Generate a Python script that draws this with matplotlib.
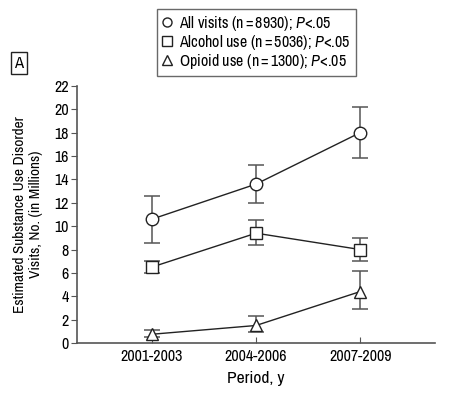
import matplotlib
matplotlib.use("Agg")
import matplotlib.pyplot as plt
from matplotlib import font_manager

# prefer a narrow/condensed face if one is installed (reference uses a condensed sans)
narrow = None
for f in font_manager.fontManager.ttflist:
    if 'Narrow' in f.name or 'Condensed' in f.name:
        narrow = f.name
        break
for f in font_manager.fontManager.ttflist:
    if f.name == 'Liberation Sans Narrow':
        narrow = f.name
        break

if narrow:
    plt.rcParams['font.family'] = [narrow, 'Liberation Sans', 'DejaVu Sans']
    scale = 1.0
else:
    plt.rcParams['font.family'] = ['Liberation Sans', 'DejaVu Sans']
    scale = 0.86
fam = plt.rcParams['font.family'][0]
plt.rcParams['mathtext.fontset'] = 'custom'
plt.rcParams['mathtext.it'] = fam + ':italic'
plt.rcParams['mathtext.rm'] = fam

periods = ['2001-2003', '2004-2006', '2007-2009']

all_visits = [10.6, 13.6, 18.0]
all_lo = [8.6, 12.0, 15.8]
all_hi = [12.6, 15.2, 20.2]

alcohol = [6.5, 9.4, 8.0]
alc_lo = [6.0, 8.4, 7.0]
alc_hi = [7.0, 10.5, 9.0]

opioid = [0.75, 1.5, 4.4]
opi_lo = [0.5, 0.9, 2.9]
opi_hi = [1.1, 2.3, 6.2]

series = [
    ('All visits (n\u2009=\u20098930); $P$<.05', all_visits, all_lo, all_hi, 'o'),
    ('Alcohol use (n\u2009=\u20095036); $P$<.05', alcohol, alc_lo, alc_hi, 's'),
    ('Opioid use (n\u2009=\u20091300); $P$<.05', opioid, opi_lo, opi_hi, '^'),
]

grey = '#555555'
fig = plt.figure(figsize=(4.49, 3.96), dpi=100)
ax = fig.add_axes([0.1715, 0.1338, 0.7975, 0.6492])
x = list(range(len(periods)))
handles = []
for label, vals, lo, hi, m in series:
    err = [[v - l for v, l in zip(vals, lo)], [h - v for v, h in zip(vals, hi)]]
    ax.errorbar(x, vals, yerr=err, fmt='none', ecolor=grey, elinewidth=1.1,
                capsize=5.5, capthick=1.1, zorder=2)
    ax.plot(x, vals, color='#222222', lw=1.0, zorder=3)
    h, = ax.plot(x, vals, linestyle='none', marker=m, ms=9 if m != 's' else 8.5,
                 mfc='white', mec='#222222', mew=1.0, zorder=4, label=label)
    handles.append(h)

ax.set_xlim(-0.72, 2.72)
ax.set_ylim(0, 22)
ax.set_yticks(range(0, 23, 2))
ax.set_xticks(x)
ax.set_xticklabels(periods)
for s in ['top', 'right']:
    ax.spines[s].set_visible(False)
for s in ['left', 'bottom']:
    ax.spines[s].set_color(grey)
    ax.spines[s].set_linewidth(1.2)
ax.tick_params(axis='y', direction='out', length=4, color=grey, labelsize=11.5 * scale, pad=2)
ax.tick_params(axis='x', direction='in', length=4, color=grey, labelsize=11.5 * scale, pad=4)
ax.set_ylabel('Estimated Substance Use Disorder\nVisits, No. (in Millions)', fontsize=11 * scale,
              labelpad=8, linespacing=1.15)
ax.set_xlabel('Period, y', fontsize=12.5 * scale, labelpad=5)

leg = fig.legend(handles=handles, loc='upper left', bbox_to_anchor=(157/449, 1 - 9/396),
                 fontsize=11.5 * scale, frameon=True, fancybox=False, handlelength=0.6,
                 handletextpad=0.5, borderpad=0.3, labelspacing=0.0, borderaxespad=0)
for h in leg.legend_handles:
    h.set_markersize(6.5)
leg.get_frame().set_edgecolor('#444444')
leg.get_frame().set_linewidth(1.0)

fig.text(19/449, 1 - 63/396, 'A', fontsize=12 * scale, ha='center', va='center',
         bbox=dict(boxstyle='square,pad=0.2', fc='white', ec='#222222', lw=1.0))

fig.savefig('out.png', dpi=100)
